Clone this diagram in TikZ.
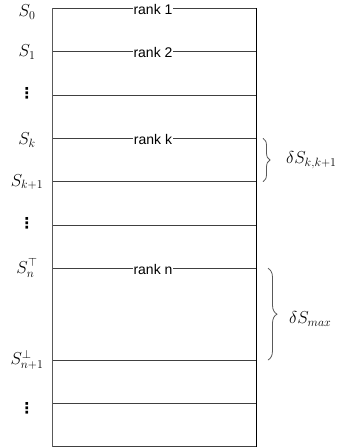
\documentclass[tikz,border=0pt]{standalone}
\usepackage{fontspec}
\setmainfont{Liberation Sans}
\newfontfamily\dvfont{DejaVu Sans}
\usetikzlibrary{decorations.pathreplacing}
\begin{document}
\begin{tikzpicture}[x=1pt,y=-1pt,
  row/.style={draw=black!75,line width=0.9pt},
  ranklbl/.style={fill=white,inner sep=1pt,font=\fontsize{14}{16}\selectfont},
  slbl/.style={inner sep=0pt,font=\fontsize{17}{19}\selectfont},
  dots/.style={inner sep=0pt,font=\dvfont\bfseries\fontsize{15}{17}\selectfont},
  brc/.style={draw=black!65,line width=0.8pt,decorate,decoration={brace,amplitude=7pt}}]
\useasboundingbox (0,0) rectangle (347,448);
% rows
\foreach \y in {8.3,51.7,95,138.3,181.7,225,268.3,360,403.3,446.7}
  \draw[row] (52,\y) -- (256,\y);
\draw[draw=black!65,line width=1pt] (52,8.3) -- (52,446.7);
\draw[draw=black,line width=1pt] (256.5,8.3) -- (256.5,446.7);
% rank labels
\node[ranklbl] (r1) at (153,9) {rank 1};
\node[ranklbl] (r2) at (153,52.4) {rank 2};
\node[ranklbl] (rk) at (153,139) {rank k};
\node[ranklbl] (rn) at (153,269) {rank n};
% left labels
\node[slbl] (s0) at (27,12) {$S_0$};
\node[slbl] (s1) at (27,52) {$S_1$};
\node[dots] (d1) at (27,93) {⋮};
\node[slbl] (sk) at (27,140) {$S_k$};
\node[slbl] (sk1) at (27,182) {$S_{k+1}$};
\node[dots] (d2) at (27,223) {⋮};
\node[slbl] (sn) at (27,268) {$S_n^{\top}$};
\node[slbl] (sn1) at (27,360) {$S_{n+1}^{\bot}$};
\node[dots] (d3) at (27,408) {⋮};
% braces
\coordinate (b1a) at (263,138.3);
\coordinate (b1b) at (263,181.7);
\draw[brc] (b1a) -- (b1b);
\node[slbl,anchor=west] (dk) at (286,160) {$\delta S_{k,k+1}$};
\coordinate (b2a) at (268,268.3);
\coordinate (b2b) at (268,360);
\draw[brc,decoration={brace,amplitude=9pt}] (b2a) -- (b2b);
\node[slbl,anchor=west] (dm) at (289,319) {$\delta S_{max}$};
\end{tikzpicture}
\end{document}
